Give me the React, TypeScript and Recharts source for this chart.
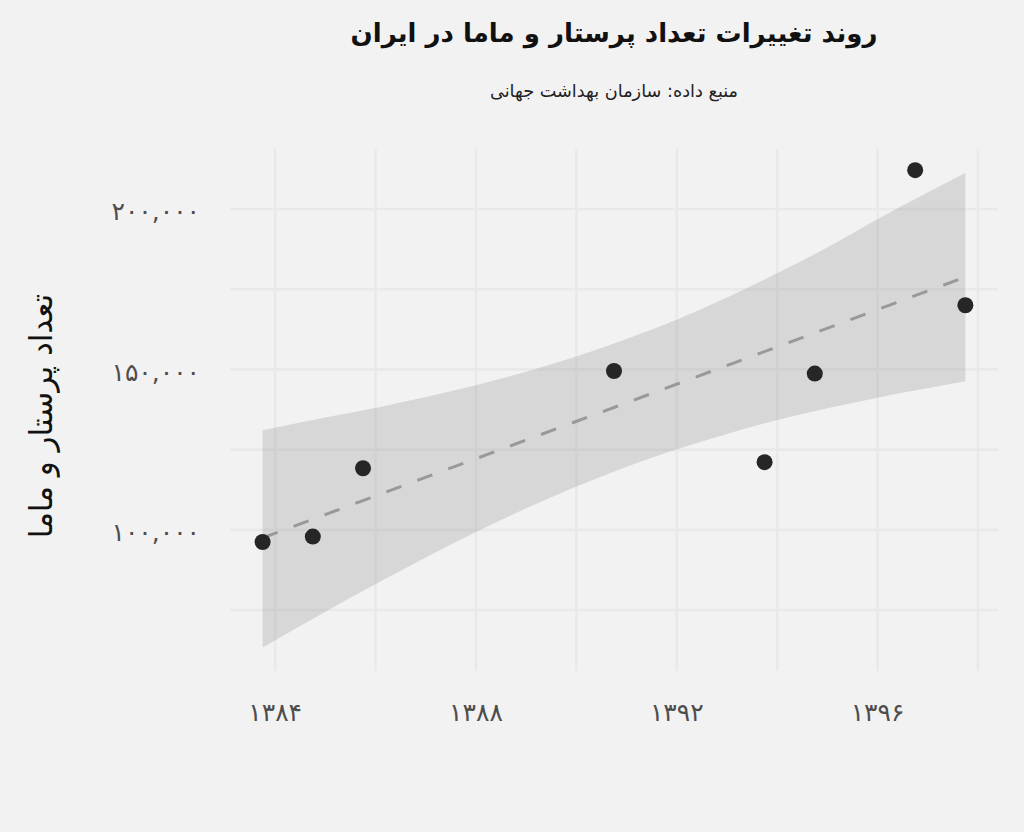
import React from 'react';
import { ComposedChart, Area, Line, Scatter, XAxis, YAxis, ReferenceLine } from 'recharts';

// Observations (Persian year, count of nurses & midwives)
const years = [1383.75, 1384.75, 1385.75, 1390.75, 1393.75, 1394.75, 1396.75, 1397.75];
const counts = [96200, 97900, 119200, 149500, 121100, 148700, 212100, 170000];

// Linear-fit confidence band
const bandYears = [1383.75, 1385, 1386, 1387, 1388, 1389, 1390, 1391, 1392, 1393, 1394, 1395, 1396, 1397.75];
const bandLow = [63300, 74500, 83100, 91400, 99300, 106700, 113500, 119700, 125100, 129900, 134200, 137900, 141200, 146300];
const bandHigh = [131000, 135000, 138000, 141400, 145100, 149300, 154000, 159500, 165500, 172400, 180000, 188000, 196800, 211200];

// Fitted trend line end points
const fitYears = [1383.75, 1397.75];
const fitValues = [97500, 178800];

// Ticks
const xTicksMajor = [1384, 1388, 1392, 1396];
const xTicksAll = [1384, 1386, 1388, 1390, 1392, 1394, 1396, 1398];
const yTicksMajor = [100000, 150000, 200000];
const yTicksAll = [75000, 100000, 125000, 150000, 175000, 200000];

const title = 'روند تغییرات تعداد پرستار و ماما در ایران';
const subtitle = 'منبع داده: سازمان بهداشت جهانی';
const yLabel = 'تعداد پرستار و ماما';

const faDigits = '۰۱۲۳۴۵۶۷۸۹';
const toFa = (s: string) => s.replace(/\d/g, (d) => faDigits[Number(d)]);

const pointData = years.map((y, i) => ({ year: y, count: counts[i] }));
const bandData = bandYears.map((y, i) => ({ year: y, band: [bandLow[i], bandHigh[i]] }));
const fitData = fitYears.map((y, i) => ({ year: y, fit: fitValues[i] }));

const FONT = '"DejaVu Sans", sans-serif';
const GRID = '#e9e9e9';
const X_DOMAIN: [number, number] = [1383.1, 1398.4];
const Y_DOMAIN: [number, number] = [56000, 218700];
const MARGIN = { top: 149, right: 26, bottom: 101, left: 0 };

const XTick = (props: any) => {
  const { x, y, payload } = props;
  if (!xTicksMajor.includes(payload.value)) return null;
  return (
    <text x={x} y={y + 41} textAnchor="middle" dominantBaseline="central" fontFamily={FONT} fontSize={25} fill="#4d4d4d">
      {toFa(String(payload.value))}
    </text>
  );
};

const YTick = (props: any) => {
  const { x, y, payload } = props;
  if (!yTicksMajor.includes(payload.value)) return null;
  return (
    <text x={x} y={y + 3} textAnchor="end" dominantBaseline="central" fontFamily={FONT} fontSize={25} fill="#4d4d4d">
      {toFa(payload.value.toLocaleString('en-US'))}
    </text>
  );
};

const Dot = (props: any) => {
  const { cx, cy } = props;
  return <circle cx={cx} cy={cy} r={8} fill="#262626" />;
};

const NoShape = () => null;

const axes = (withTicks: boolean) => [
  <XAxis
    key="x"
    dataKey="year"
    type="number"
    domain={X_DOMAIN}
    ticks={xTicksAll}
    interval={0}
    allowDataOverflow
    axisLine={false}
    tickLine={false}
    tickSize={0}
    tickMargin={0}
    height={60}
    tick={withTicks ? <XTick /> : false}
  />,
  <YAxis
    key="y"
    type="number"
    domain={Y_DOMAIN}
    ticks={yTicksAll}
    interval={0}
    allowDataOverflow
    axisLine={false}
    tickLine={false}
    tickSize={0}
    tickMargin={30}
    width={230}
    tick={withTicks ? <YTick /> : false}
  />,
];

export default function App() {
  return (
    <div style={{ position: 'absolute', left: 0, top: 0, width: 1024, height: 832, background: '#f2f2f2', overflow: 'hidden' }}>
      <div style={{ position: 'absolute', left: 230, width: 768, top: 18, textAlign: 'center', fontFamily: FONT, fontWeight: 'bold', fontSize: 26, color: '#111', direction: 'rtl' }}>
        {title}
      </div>
      <div style={{ position: 'absolute', left: 230, width: 768, top: 81, textAlign: 'center', fontFamily: FONT, fontSize: 17.7, color: '#222', direction: 'rtl' }}>
        {subtitle}
      </div>
      <div style={{ position: 'absolute', left: 41, top: 416, width: 0, height: 0 }}>
        <div style={{ position: 'absolute', transform: 'translate(-50%, -50%) rotate(-90deg)', whiteSpace: 'nowrap', fontFamily: FONT, fontSize: 31, color: '#111', direction: 'rtl' }}>
          {yLabel}
        </div>
      </div>
      {/* background layer: grid lines */}
      <div style={{ position: 'absolute', left: 0, top: 0 }}>
        <ComposedChart width={1024} height={832} margin={MARGIN}>
          {axes(false)}
          <Scatter data={pointData} dataKey="count" shape={<NoShape />} isAnimationActive={false} />
          {yTicksAll.map((v) => (
            <ReferenceLine key={'h' + v} y={v} stroke={GRID} strokeWidth={2.6} ifOverflow="hidden" />
          ))}
          {xTicksAll.map((v) => (
            <ReferenceLine key={'v' + v} x={v} stroke={GRID} strokeWidth={2.6} ifOverflow="hidden" />
          ))}
        </ComposedChart>
      </div>
      {/* foreground layer: data */}
      <div style={{ position: 'absolute', left: 0, top: 0 }}>
        <ComposedChart width={1024} height={832} margin={MARGIN}>
          {axes(true)}
          <Area
            data={bandData}
            dataKey="band"
            type="monotone"
            stroke="none"
            fill="#999999"
            fillOpacity={0.3}
            isAnimationActive={false}
          />
          <Line
            data={fitData}
            dataKey="fit"
            type="linear"
            stroke="#999999"
            strokeWidth={3}
            strokeDasharray="16 17"
            dot={false}
            isAnimationActive={false}
          />
          <Scatter data={pointData} dataKey="count" shape={<Dot />} isAnimationActive={false} />
        </ComposedChart>
      </div>
    </div>
  );
}
